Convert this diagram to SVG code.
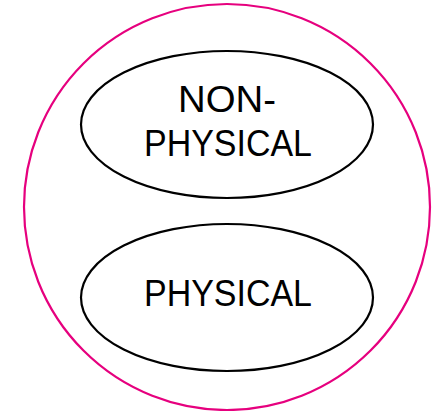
<svg xmlns="http://www.w3.org/2000/svg" width="446" height="411" viewBox="0 0 446 411">
<style>
.outer{fill:none;stroke:#E6007E;stroke-width:2.2}
.node{fill:#fff;stroke:#000;stroke-width:2.2}
.lbl{font-family:"Liberation Sans",Arial,sans-serif;font-size:36px;fill:#000;text-anchor:middle}
</style>
<rect width="446" height="411" fill="#fff"/>
<g id="outer"><circle class="outer" cx="227" cy="207" r="203"/></g>
<g id="non-physical">
<ellipse class="node" cx="227" cy="124.5" rx="146" ry="73.5"/>
<text class="lbl" x="227" y="112" textLength="98" lengthAdjust="spacingAndGlyphs">NON-</text>
<text class="lbl" x="228" y="156" textLength="168" lengthAdjust="spacingAndGlyphs">PHYSICAL</text>
</g>
<g id="physical">
<ellipse class="node" cx="227" cy="297.5" rx="146" ry="73.5"/>
<text class="lbl" x="228" y="306" textLength="168" lengthAdjust="spacingAndGlyphs">PHYSICAL</text>
</g>
<g id="connectors"/>
</svg>
